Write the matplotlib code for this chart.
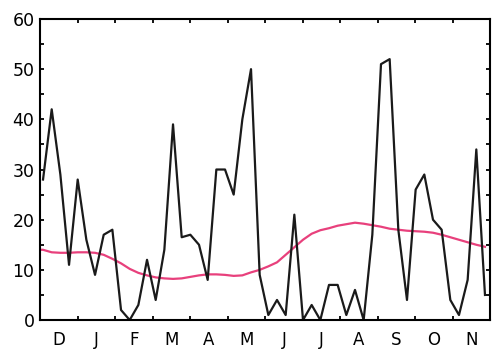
import numpy as np
import matplotlib
matplotlib.use('Agg')
import matplotlib.pyplot as plt
from matplotlib.ticker import MultipleLocator, FixedLocator


months = ['D', 'J', 'F', 'M', 'A', 'M', 'J', 'J', 'A', 'S', 'O', 'N']

# weekly values, Dec -> Nov
weekly = [28, 42, 29, 11, 28, 16, 9, 17, 18, 2,
          0, 3, 12, 4, 14, 39, 16.5, 17, 15, 8,
          30, 30, 25, 40, 50, 9, 1, 4, 1, 21,
          0, 3, 0, 7, 7, 1, 6, 0, 17, 51,
          52, 18, 4, 26, 29, 20, 18, 4, 1, 8,
          34, 5]

# smoothed long-term mean
mean = [14.0, 13.5, 13.4, 13.4, 13.5, 13.5, 13.4, 13.0, 12.2, 11.3,
        10.2, 9.4, 8.9, 8.5, 8.3, 8.2, 8.3, 8.6, 8.9, 9.1,
        9.1, 9.0, 8.8, 8.9, 9.5, 10.0, 10.7, 11.5, 13.0, 14.5,
        16.0, 17.2, 17.9, 18.3, 18.8, 19.1, 19.4, 19.2, 18.9, 18.6,
        18.2, 18.0, 17.8, 17.7, 17.6, 17.4, 17.0, 16.5, 16.0, 15.5,
        15.0, 14.6]

weeks = np.arange(len(weekly))
x0, x1 = -0.35, 51.6

fig = plt.figure(figsize=(4.92, 3.49), dpi=100)
ax = fig.add_axes([0.0813, 0.083, 0.915, 0.8626])

ax.plot(np.r_[x0, weeks], np.r_[mean[0], mean], color='#e8407c', lw=1.6)
ax.plot(weeks, weekly, color='#1a1a1a', lw=1.6)

ax.set_xlim(x0, x1)
ax.set_ylim(0, 60)

bounds = np.linspace(x0, x1, 13)
centers = (bounds[:-1] + bounds[1:]) / 2
ax.xaxis.set_major_locator(FixedLocator(bounds[1:-1]))
ax.xaxis.set_minor_locator(FixedLocator(centers))
ax.set_xticklabels([])
ax.set_xticklabels(months, minor=True)
ax.tick_params(axis='x', which='major', direction='in', length=3, width=1.3,
               top=True, bottom=True)
ax.tick_params(axis='x', which='minor', length=0, pad=8, labelsize=12)

ax.yaxis.set_major_locator(MultipleLocator(10))
ax.yaxis.set_minor_locator(MultipleLocator(5))
ax.tick_params(axis='y', which='both', direction='in', length=3, width=1.3,
               left=True, right=True, labelsize=12.5, pad=4)

for s in ax.spines.values():
    s.set_linewidth(1.5)

fig.savefig('out.png', dpi=100)
